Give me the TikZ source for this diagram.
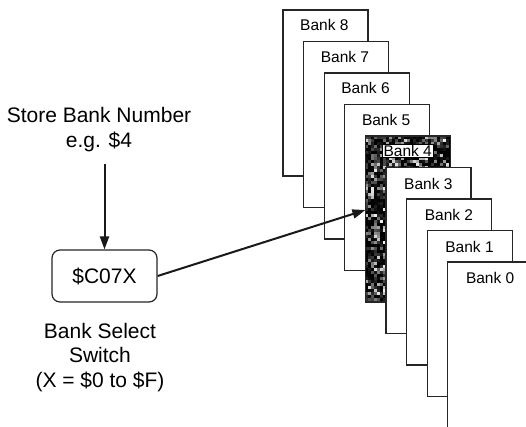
\documentclass[tikz,border=0pt]{standalone}
\usepackage{fontspec}
\setmainfont{Liberation Sans}
\usetikzlibrary{arrows.meta,calc}
\begin{document}
\begin{tikzpicture}[x=1pt,y=-1pt,
  page/.style={draw=black!85, line width=1.3pt, fill=white, minimum width=85pt, minimum height=166pt, anchor=north west, inner sep=0pt, outer sep=0pt},
  banklabel/.style={font=\fontsize{15.5}{18}\selectfont, anchor=west, inner sep=1pt},
  bigtext/.style={font=\fontsize{21}{24.5}\selectfont, align=center},
  conn/.style={line width=2pt, draw=black!90, -{Triangle[length=13pt,width=9pt]}}]
\useasboundingbox[fill=white] (0,0) rectangle (526,426);
% back pages 8..5
\foreach \k in {8,7,6,5} {
  \pgfmathsetmacro\lx{283+(8-\k)*20.6}
  \pgfmathsetmacro\ty{10+(8-\k)*31.5}
  \node[page] (b\k) at (\lx,\ty) {};
  \node[banklabel] (l\k) at ([xshift=16pt,yshift=-15pt]b\k.north west) {Bank \k};
}
% bank 4 (dark, textured)
\node[page] (b4) at (365.4,136) {};
\begin{scope}
  \clip (b4.north west) rectangle (b4.south east);
  \fill[black] (b4.north west) rectangle (b4.south east);
  \pgfmathsetseed{11}
  \foreach \i in {0,...,27} {
    \foreach \j in {0,...,55} {
      \pgfmathsetmacro\g{95*rnd^3}
      \fill[white!\g!black] (365.4+3*\i,136+3*\j) rectangle ++(3,3);
    }
  }
\end{scope}
\draw[black!85, line width=1.3pt] (b4.north west) rectangle (b4.south east);
\node[banklabel, fill=white, draw=black, line width=0.4pt] (l4) at ([xshift=17pt,yshift=-15pt]b4.north west) {Bank 4};
% front pages 3..0
\foreach \k in {3,2,1,0} {
  \pgfmathsetmacro\lx{283+(8-\k)*20.6}
  \pgfmathsetmacro\ty{10+(8-\k)*31.5}
  \node[page] (b\k) at (\lx,\ty) {};
  \node[banklabel] (l\k) at ([xshift=17pt,yshift=-16pt]b\k.north west) {Bank \k};
}
% left side
\node[bigtext] (store) at (99,129.5) {Store Bank Number\\e.g. \$4};
\node[draw=black!85, line width=1.2pt, rounded corners=8pt, minimum width=105pt, minimum height=52pt, inner sep=0pt, font=\fontsize{21}{24}\selectfont] (sw) at (104.5,276) {\$C07X};
\node[bigtext] (cap) at (100,357.5) {Bank Select\\Switch\\(X = \$0 to \$F)};
\path (sw.north |- store.south) ++(0,9) coordinate (ain);
\draw[conn] (ain) -- (sw.north);
\draw[conn] (sw.east) -- ([yshift=9pt]b4.west);
\end{tikzpicture}
\end{document}
